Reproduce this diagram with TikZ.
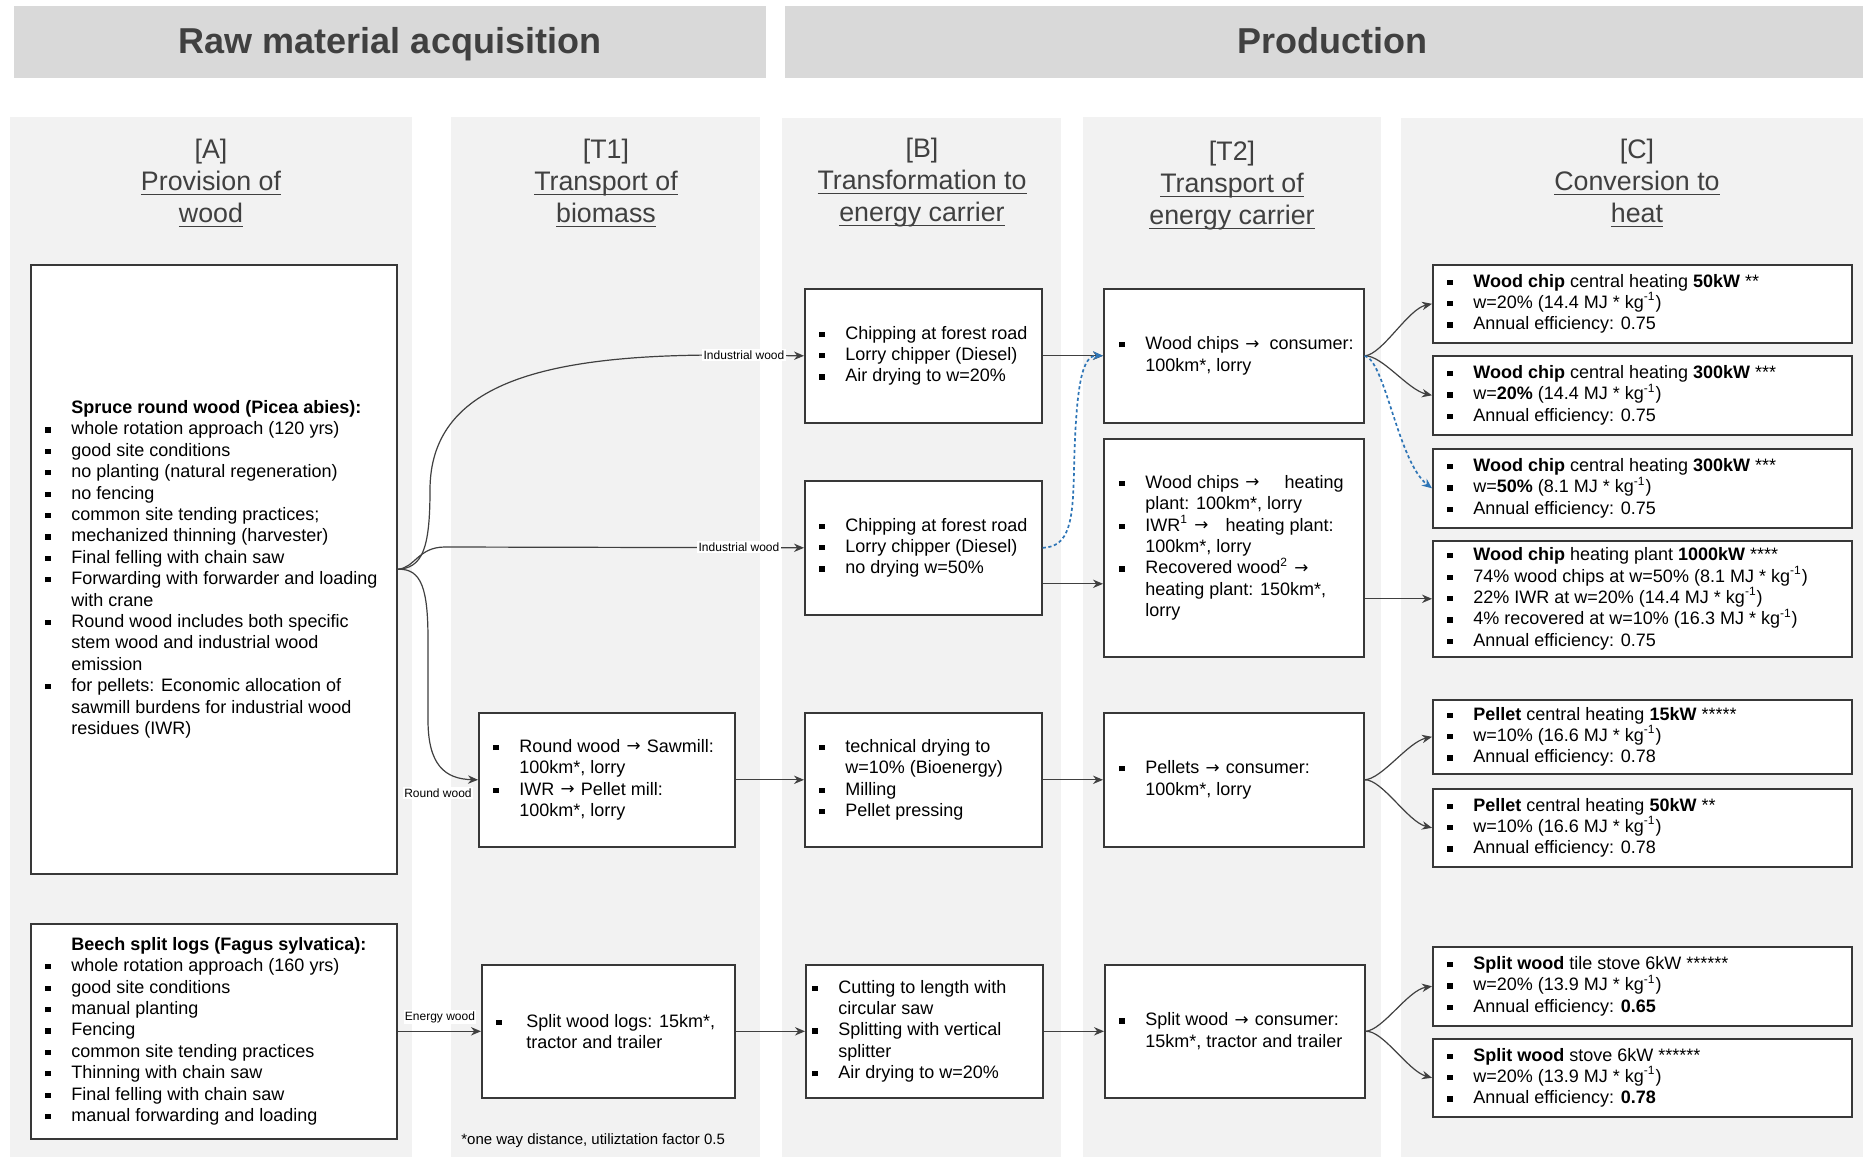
\documentclass[tikz,border=0pt]{standalone}
\usepackage{fontspec}
\setmainfont{Liberation Sans}
\newfontfamily\arrowfont{DejaVu Sans}
\usetikzlibrary{arrows.meta,calc}

\definecolor{hdrgray}{HTML}{D9D9D9}
\definecolor{colgray}{HTML}{F2F2F2}
\definecolor{txtgray}{HTML}{404040}
\definecolor{linkgray}{HTML}{404040}
\definecolor{dashblue}{HTML}{2E75B6}

% list helpers: square bullet with hanging indent, and the matching indent
\newcommand\bu{\makebox[13pt][l]{\rule[1.15pt]{2.6pt}{2.6pt}}}
\newcommand\ct{\makebox[13pt]{}}
\newcommand\kgi{kg\textsuperscript{-1}}
\newcommand\ar{\hspace{0.6pt}\raisebox{0.2pt}{\arrowfont\fontsize{8.4}{9}\selectfont →}\hspace{0.6pt}}
\newsavebox\ulbox
\newcommand\ulx[1]{\sbox\ulbox{#1}\rlap{\rule[-2.2pt]{\wd\ulbox}{0.7pt}}\usebox\ulbox}
% box from corner (x1,y1) to (x2,y2), in pixel units
\newcommand\bx[5]{\node[flowbox, minimum width={(#4-#2)*0.5pt}, minimum height={(#5-#3)*0.5pt}] (#1) at (#2,#3) {};}

\tikzset{
  flowbox/.style={draw=black!78, line width=0.8pt, fill=white, inner sep=0pt, rectangle, anchor=north west},
  txt/.style={anchor=west, align=left, inner sep=0pt, font=\fontsize{9}{10.7}\selectfont, text=black},
  coltitle/.style={align=center, inner sep=0pt, font=\fontsize{13.4}{16}\selectfont, text=txtgray},
  hdrtext/.style={anchor=base, font=\bfseries\fontsize{18}{21}\selectfont, text=txtgray},
  conn/.style={draw=linkgray, line width=0.6pt, -{Stealth[length=5pt,width=4.2pt]}},
  blueconn/.style={draw=dashblue, line width=0.85pt, dash pattern=on 1.6pt off 1.3pt, -{Stealth[length=5pt,width=4.2pt]}},
  flowlabel/.style={fill=white, inner sep=0.6pt, font=\fontsize{6}{7}\selectfont, text=black},
  note/.style={font=\fontsize{7.5}{9}\selectfont, anchor=west, inner sep=0pt}
}

\begin{document}
\begin{tikzpicture}[x=0.5pt, y=-0.5pt]
\useasboundingbox (0,0) rectangle (1863,1157);
\fill[white] (0,0) rectangle (1863,1157);

% phase headers
\fill[hdrgray] (14,6) rectangle (766,78);
\fill[hdrgray] (785,6) rectangle (1863,78);
\node[hdrtext] (hraw) at (390,53) {Raw material acquisition};
\node[hdrtext] (hprod) at (1332,53) {Production};

% column backgrounds
\fill[colgray] (10,117) rectangle (412,1157);
\fill[colgray] (451,117) rectangle (760,1157);
\fill[colgray] (782,118) rectangle (1061,1157);
\fill[colgray] (1083,117) rectangle (1381,1157);
\fill[colgray] (1401,118) rectangle (1863,1157);

% column titles
\node[coltitle] (tA) at (211,183) {[A]\\\ulx{Provision of}\\\ulx{wood}};
\node[coltitle] (tT1) at (606,183) {[T1]\\\ulx{Transport of}\\\ulx{biomass}};
\node[coltitle] (tB) at (922,183) {[B]\\\ulx{Transformation to}\\\ulx{energy carrier}};
\node[coltitle] (tT2) at (1232,186) {[T2]\\\ulx{Transport of}\\\ulx{energy carrier}};
\node[coltitle] (tC) at (1637,183) {[C]\\\ulx{Conversion to}\\\ulx{heat}};

% boxes
\bx{A1}{30}{264}{396}{873}
\bx{A2}{30}{923}{396}{1138}
\bx{T1a}{478}{712}{734}{846}
\bx{T1b}{481}{964}{734}{1097}
\bx{B1}{804}{288}{1041}{422}
\bx{B2}{804}{480}{1041}{614}
\bx{B3}{804}{712}{1041}{846}
\bx{B4}{805}{964}{1042}{1097}
\bx{T2a}{1103}{288}{1363}{422}
\bx{T2b}{1103}{438}{1363}{656}
\bx{T2c}{1103}{712}{1363}{846}
\bx{T2d}{1104}{964}{1364}{1097}
\bx{C1}{1432}{264}{1851}{342}
\bx{C2}{1432}{355}{1851}{434}
\bx{C3}{1432}{448}{1851}{527}
\bx{C4}{1432}{540}{1851}{656}
\bx{C5}{1432}{699}{1851}{773}
\bx{C6}{1432}{788}{1851}{866}
\bx{C7}{1432}{946}{1851}{1025}
\bx{C8}{1432}{1038}{1851}{1116}

% box texts
\node[txt] at ($(A1.west)+(15,0)$) {\ct\textbf{Spruce round wood (Picea abies):}\\
\bu whole rotation approach (120 yrs)\\
\bu good site conditions\\
\bu no planting (natural regeneration)\\
\bu no fencing\\
\bu common site tending practices;\\
\bu mechanized thinning (harvester)\\
\bu Final felling with chain saw\\
\bu Forwarding with forwarder and loading\\
\ct with crane\\
\bu Round wood includes both specific\\
\ct stem wood and industrial wood\\
\ct emission\\
\bu for pellets: Economic allocation of\\
\ct sawmill burdens for industrial wood\\
\ct residues (IWR)};

\node[txt] at ($(A2.west)+(15,0)$) {\ct\textbf{Beech split logs (Fagus sylvatica):}\\
\bu whole rotation approach (160 yrs)\\
\bu good site conditions\\
\bu manual planting\\
\bu Fencing\\
\bu common site tending practices\\
\bu Thinning with chain saw\\
\bu Final felling with chain saw\\
\bu manual forwarding and loading};

\node[txt] at ($(T1a.west)+(15,0)$) {\bu Round wood \ar{} Sawmill:\\
\ct 100km*, lorry\\
\bu IWR \ar{} Pellet mill:\\
\ct 100km*, lorry};

\node[txt] at ($(T1b.west)+(15,0)$) {\bu\hspace{2pt}Split wood logs: 15km*,\\
\ct\hspace{2pt}tractor and trailer};

\node[txt] at ($(B1.west)+(15,0)$) {\bu Chipping at forest road\\
\bu Lorry chipper (Diesel)\\
\bu Air drying to w=20\%};

\node[txt] at ($(B2.west)+(15,0)$) {\bu Chipping at forest road\\
\bu Lorry chipper (Diesel)\\
\bu no drying w=50\%};

\node[txt] at ($(B3.west)+(15,0)$) {\bu technical drying to\\
\ct w=10\% (Bioenergy)\\
\bu Milling\\
\bu Pellet pressing};

\node[txt] at ($(B4.west)+(7,0)$) {\bu Cutting to length with\\
\ct circular saw\\
\bu Splitting with vertical\\
\ct splitter\\
\bu Air drying to w=20\%};

\node[txt] at ($(T2a.west)+(16,0)$) {\bu Wood chips \ar\hspace{2pt} consumer:\\
\ct 100km*, lorry};

\node[txt] at ($(T2b.west)+(16,0)$) {\bu Wood chips \ar\hspace{12pt}heating\\
\ct plant: 100km*, lorry\\
\bu IWR\textsuperscript{1} \ar\hspace{8pt}heating plant:\\
\ct 100km*, lorry\\
\bu Recovered wood\textsuperscript{2} \ar\\
\ct heating plant: 150km*,\\
\ct lorry};

\node[txt] at ($(T2c.west)+(16,0)$) {\bu Pellets \ar{} consumer:\\
\ct 100km*, lorry};

\node[txt] at ($(T2d.west)+(15,0)$) {\bu Split wood \ar{} consumer:\\
\ct 15km*, tractor and trailer};

\node[txt] at ($(C1.west)+(15,0)$) {\bu\textbf{Wood chip} central heating \textbf{50kW} **\\
\bu w=20\% (14.4 MJ * \kgi)\\
\bu Annual efficiency: 0.75};

\node[txt] at ($(C2.west)+(15,0)$) {\bu\textbf{Wood chip} central heating \textbf{300kW} ***\\
\bu w=\textbf{20\%} (14.4 MJ * \kgi)\\
\bu Annual efficiency: 0.75};

\node[txt] at ($(C3.west)+(15,0)$) {\bu\textbf{Wood chip} central heating \textbf{300kW} ***\\
\bu w=\textbf{50\%} (8.1 MJ * \kgi)\\
\bu Annual efficiency: 0.75};

\node[txt] at ($(C4.west)+(15,0)$) {\bu\textbf{Wood chip} heating plant \textbf{1000kW} ****\\
\bu 74\% wood chips at w=50\% (8.1 MJ * \kgi)\\
\bu 22\% IWR at w=20\% (14.4 MJ * \kgi)\\
\bu 4\% recovered at w=10\% (16.3 MJ * \kgi)\\
\bu Annual efficiency: 0.75};

\node[txt] at ($(C5.west)+(15,0)$) {\bu\textbf{Pellet} central heating \textbf{15kW} *****\\
\bu w=10\% (16.6 MJ * \kgi)\\
\bu Annual efficiency: 0.78};

\node[txt] at ($(C6.west)+(15,0)$) {\bu\textbf{Pellet} central heating \textbf{50kW} **\\
\bu w=10\% (16.6 MJ * \kgi)\\
\bu Annual efficiency: 0.78};

\node[txt] at ($(C7.west)+(15,0)$) {\bu\textbf{Split wood} tile stove 6kW ******\\
\bu w=20\% (13.9 MJ * \kgi)\\
\bu Annual efficiency: \textbf{0.65}};

\node[txt] at ($(C8.west)+(15,0)$) {\bu\textbf{Split wood} stove 6kW ******\\
\bu w=20\% (13.9 MJ * \kgi)\\
\bu Annual efficiency: \textbf{0.78}};

% footnote
\node[note] (fn) at (461,1141) {*one way distance, utiliztation factor 0.5};

% raw material flows
\draw[conn] (A1.east) .. controls (422,568) and (430,550) .. (430,490)
  .. controls (430,385) and (540,355) .. (720,355) -- (B1.west);
\draw[conn] (A1.east) .. controls (415,568) and (418,547) .. (445,547) -- (B2.west);
\draw[conn] (A1.east) .. controls (422,568) and (428,590) .. (428,640) -- (428,720)
  .. controls (428,765) and (445,779) .. (T1a.west);
\draw[conn] (A2.east) -- (T1b.west);
\node[flowlabel] (lb1) at (744,355) {Industrial wood};
\node[flowlabel] (lb2) at (739,547) {Industrial wood};
\node[flowlabel] (lb3) at (438,793) {Round wood};
\node[flowlabel] (lb4) at (440,1017) {Energy wood};

% processing chain
\draw[conn] (T1a.east) -- (B3.west);
\draw[conn] (T1b.east) -- (B4.west);
\draw[conn] (B1.east) -- (T2a.west);
\draw[conn] ($(B2.east)+(0,36)$) -- ($(T2b.west)+(0,36)$);
\draw[conn] (B3.east) -- (T2c.west);
\draw[conn] (B4.east) -- (T2d.west);
\draw[blueconn] (B2.east) .. controls (1070,547) and (1073,520) .. (1074,470)
  .. controls (1076,385) and (1082,355) .. (T2a.west);

% conversion
\draw[conn] (T2a.east) .. controls (1382,355) and (1408,309) .. (C1.west);
\draw[conn] (T2a.east) .. controls (1382,355) and (1408,390) .. (C2.west);
\draw[blueconn] (T2a.east) .. controls (1385,360) and (1398,462) .. (C3.west);
\draw[conn] (T2b.east |- C4.west) -- (C4.west);
\draw[conn] (T2c.east) .. controls (1382,779) and (1408,742) .. (C5.west);
\draw[conn] (T2c.east) .. controls (1382,779) and (1408,822) .. (C6.west);
\draw[conn] (T2d.east) .. controls (1383,1030) and (1408,990) .. (C7.west);
\draw[conn] (T2d.east) .. controls (1383,1030) and (1408,1071) .. (C8.west);
\end{tikzpicture}
\end{document}
